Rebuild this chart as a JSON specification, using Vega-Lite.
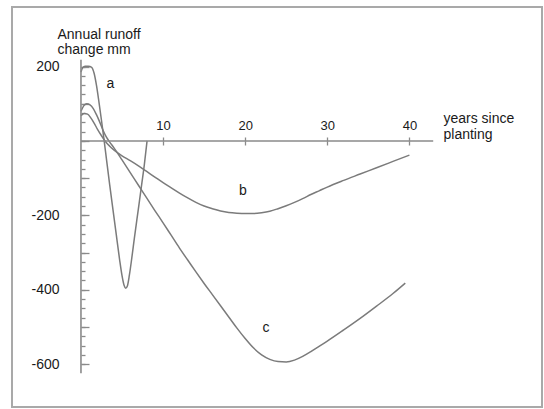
{
  "$schema": "https://vega.github.io/schema/vega-lite/v6.json",
  "width": 530,
  "height": 400,
  "autosize": {"type": "none"},
  "padding": {"left": 12, "top": 7, "right": 2, "bottom": 2},
  "background": "white",
  "config": {
    "view": {"stroke": "#a9a9a9", "strokeWidth": 2},
    "font": "Liberation Sans",
    "axis": {
      "grid": false,
      "domain": false,
      "tickColor": "#8a8a8a",
      "tickWidth": 1.3,
      "labelFont": "Liberation Sans",
      "labelColor": "#1a1a1a",
      "titleFont": "Liberation Sans",
      "titleColor": "#1a1a1a",
      "titleFontWeight": "normal"
    }
  },
  "datasets": {
    "curves": [
      {"series": "a", "x": 0, "y": 185}, {"series": "a", "x": 0.2, "y": 197}, {"series": "a", "x": 0.5, "y": 201}, {"series": "a", "x": 0.9, "y": 201},
      {"series": "a", "x": 1.3, "y": 198}, {"series": "a", "x": 1.6, "y": 182}, {"series": "a", "x": 1.9, "y": 148}, {"series": "a", "x": 2.2, "y": 103},
      {"series": "a", "x": 2.5, "y": 55}, {"series": "a", "x": 2.8, "y": 5}, {"series": "a", "x": 3.1, "y": -48}, {"series": "a", "x": 3.5, "y": -118},
      {"series": "a", "x": 3.9, "y": -185}, {"series": "a", "x": 4.3, "y": -252}, {"series": "a", "x": 4.7, "y": -318}, {"series": "a", "x": 5.0, "y": -362},
      {"series": "a", "x": 5.25, "y": -388}, {"series": "a", "x": 5.45, "y": -396}, {"series": "a", "x": 5.65, "y": -390}, {"series": "a", "x": 5.9, "y": -360},
      {"series": "a", "x": 6.2, "y": -313}, {"series": "a", "x": 6.5, "y": -262}, {"series": "a", "x": 6.8, "y": -213}, {"series": "a", "x": 7.1, "y": -165},
      {"series": "a", "x": 7.4, "y": -116}, {"series": "a", "x": 7.7, "y": -67}, {"series": "a", "x": 8.05, "y": 0},
      {"series": "b", "x": 0, "y": 68}, {"series": "b", "x": 0.4, "y": 74}, {"series": "b", "x": 0.8, "y": 72}, {"series": "b", "x": 1.2, "y": 62},
      {"series": "b", "x": 1.6, "y": 48}, {"series": "b", "x": 2.0, "y": 32}, {"series": "b", "x": 2.5, "y": 14}, {"series": "b", "x": 3.0, "y": -2},
      {"series": "b", "x": 3.5, "y": -14}, {"series": "b", "x": 4, "y": -24}, {"series": "b", "x": 5, "y": -40}, {"series": "b", "x": 6, "y": -53},
      {"series": "b", "x": 7, "y": -67}, {"series": "b", "x": 8, "y": -82}, {"series": "b", "x": 9, "y": -97}, {"series": "b", "x": 10, "y": -112},
      {"series": "b", "x": 11, "y": -126}, {"series": "b", "x": 12, "y": -140}, {"series": "b", "x": 13, "y": -153}, {"series": "b", "x": 14, "y": -165},
      {"series": "b", "x": 15, "y": -175}, {"series": "b", "x": 16, "y": -182}, {"series": "b", "x": 17, "y": -188}, {"series": "b", "x": 18, "y": -192},
      {"series": "b", "x": 19, "y": -194}, {"series": "b", "x": 20, "y": -195}, {"series": "b", "x": 21, "y": -195}, {"series": "b", "x": 22, "y": -193},
      {"series": "b", "x": 23, "y": -189}, {"series": "b", "x": 24, "y": -182}, {"series": "b", "x": 25, "y": -174}, {"series": "b", "x": 26, "y": -165},
      {"series": "b", "x": 27, "y": -155}, {"series": "b", "x": 28, "y": -144}, {"series": "b", "x": 29, "y": -134}, {"series": "b", "x": 30, "y": -124},
      {"series": "b", "x": 32, "y": -106}, {"series": "b", "x": 34, "y": -89}, {"series": "b", "x": 36, "y": -72}, {"series": "b", "x": 38, "y": -55},
      {"series": "b", "x": 40, "y": -38},
      {"series": "c", "x": 0, "y": 80}, {"series": "c", "x": 0.35, "y": 95}, {"series": "c", "x": 0.7, "y": 100}, {"series": "c", "x": 1.1, "y": 97},
      {"series": "c", "x": 1.5, "y": 87}, {"series": "c", "x": 1.9, "y": 70}, {"series": "c", "x": 2.3, "y": 50}, {"series": "c", "x": 2.7, "y": 28},
      {"series": "c", "x": 3.1, "y": 10}, {"series": "c", "x": 3.5, "y": -3}, {"series": "c", "x": 4, "y": -18}, {"series": "c", "x": 5, "y": -51},
      {"series": "c", "x": 6, "y": -85}, {"series": "c", "x": 7, "y": -119}, {"series": "c", "x": 8, "y": -153}, {"series": "c", "x": 9, "y": -187},
      {"series": "c", "x": 10, "y": -220}, {"series": "c", "x": 11, "y": -254}, {"series": "c", "x": 12, "y": -288}, {"series": "c", "x": 13, "y": -320},
      {"series": "c", "x": 14, "y": -352}, {"series": "c", "x": 15, "y": -383}, {"series": "c", "x": 16, "y": -413}, {"series": "c", "x": 17, "y": -443},
      {"series": "c", "x": 18, "y": -473}, {"series": "c", "x": 19, "y": -503}, {"series": "c", "x": 20, "y": -531}, {"series": "c", "x": 21, "y": -556},
      {"series": "c", "x": 22, "y": -575}, {"series": "c", "x": 23, "y": -587}, {"series": "c", "x": 24, "y": -593}, {"series": "c", "x": 25, "y": -594},
      {"series": "c", "x": 26, "y": -589}, {"series": "c", "x": 27, "y": -579}, {"series": "c", "x": 28, "y": -566}, {"series": "c", "x": 29, "y": -552},
      {"series": "c", "x": 30, "y": -538}, {"series": "c", "x": 32, "y": -508}, {"series": "c", "x": 34, "y": -477}, {"series": "c", "x": 36, "y": -444},
      {"series": "c", "x": 38, "y": -410}, {"series": "c", "x": 39.5, "y": -382}
    ],
    "xaxisline": [{"x": 0, "x2": 42.9, "y": 0}],
    "yaxisline": [{"x": 0, "y": 218, "y2": -624}],
    "curvelabels": [
      {"label": "a", "x": 3.58, "y": 153},
      {"label": "b", "x": 19.73, "y": -134},
      {"label": "c", "x": 22.53, "y": -503}
    ]
  },
  "resolve": {"axis": {"x": "independent", "y": "independent"}},
  "layer": [
    {
      "data": {"name": "curves"},
      "mark": {"type": "line", "interpolate": "monotone", "stroke": "#7b7b7b", "strokeWidth": 1.5},
      "encoding": {
        "x": {
          "field": "x", "type": "quantitative",
          "scale": {"domain": [-8.4, 56.15], "nice": false, "zero": false},
          "axis": {
            "orient": "top", "offset": -134, "values": [10, 20, 30, 40],
            "tickSize": 4, "labelPadding": 5, "labelFontSize": 13,
            "title": ["years since", "planting"], "titleX": 431, "titleY": -30,
            "titleAlign": "left", "titleBaseline": "top", "titleAngle": 0,
            "titleLineHeight": 16, "titleFontSize": 14
          }
        },
        "y": {
          "field": "y", "type": "quantitative",
          "scale": {"domain": [-715, 360], "nice": false, "zero": false},
          "axis": {
            "orient": "left", "offset": -69, "values": [200, -200, -400, -600],
            "labelExpr": "datum.value < 0 ? '-' + format(-datum.value, 'd') : format(datum.value, 'd')",
            "ticks": false, "tickSize": 0, "labelPadding": 22, "labelFontSize": 14,
            "title": ["Annual runoff", "change mm"], "titleX": -24, "titleY": 20,
            "titleAlign": "left", "titleBaseline": "top", "titleAngle": 0,
            "titleLineHeight": 15, "titleFontSize": 14
          }
        },
        "detail": {"field": "series", "type": "nominal"}
      }
    },
    {
      "data": {"name": "xaxisline"},
      "mark": {"type": "rule", "stroke": "#8a8a8a", "strokeWidth": 1.6},
      "encoding": {
        "x": {
          "field": "x", "type": "quantitative",
          "scale": {"domain": [-8.4, 56.15], "nice": false, "zero": false},
          "axis": {"orient": "top", "offset": -134, "values": [10, 20, 30, 40], "tickSize": -4, "labels": false, "title": null}
        },
        "x2": {"field": "x2"},
        "y": {
          "field": "y", "type": "quantitative",
          "scale": {"domain": [-715, 360], "nice": false, "zero": false},
          "axis": {"orient": "left", "offset": -69, "values": [200, 100, 0, -100, -200, -300, -400, -500, -600], "tickSize": -8, "labels": false, "title": null}
        }
      }
    },
    {
      "data": {"name": "yaxisline"},
      "mark": {"type": "rule", "stroke": "#8a8a8a", "strokeWidth": 1.6},
      "encoding": {
        "x": {
          "field": "x", "type": "quantitative",
          "scale": {"domain": [-8.4, 56.15], "nice": false, "zero": false},
          "axis": null
        },
        "y": {
          "field": "y", "type": "quantitative",
          "scale": {"domain": [-715, 360], "nice": false, "zero": false},
          "axis": {"orient": "left", "offset": -69, "values": [200, 175, 150, 125, 100, 75, 50, 25, 0, -25, -50, -75, -100, -125, -150, -175, -200, -225, -250, -275, -300, -325, -350, -375, -400, -425, -450, -475, -500, -525, -550, -575, -600], "tickSize": -4, "labels": false, "title": null}
        },
        "y2": {"field": "y2"}
      }
    },
    {
      "data": {"name": "curvelabels"},
      "mark": {"type": "text", "font": "Liberation Sans", "fontSize": 14, "color": "#1a1a1a", "align": "center", "baseline": "middle"},
      "encoding": {
        "x": {"field": "x", "type": "quantitative", "scale": {"domain": [-8.4, 56.15], "nice": false, "zero": false}, "axis": null},
        "y": {"field": "y", "type": "quantitative", "scale": {"domain": [-715, 360], "nice": false, "zero": false}, "axis": null},
        "text": {"field": "label"}
      }
    }
  ]
}
